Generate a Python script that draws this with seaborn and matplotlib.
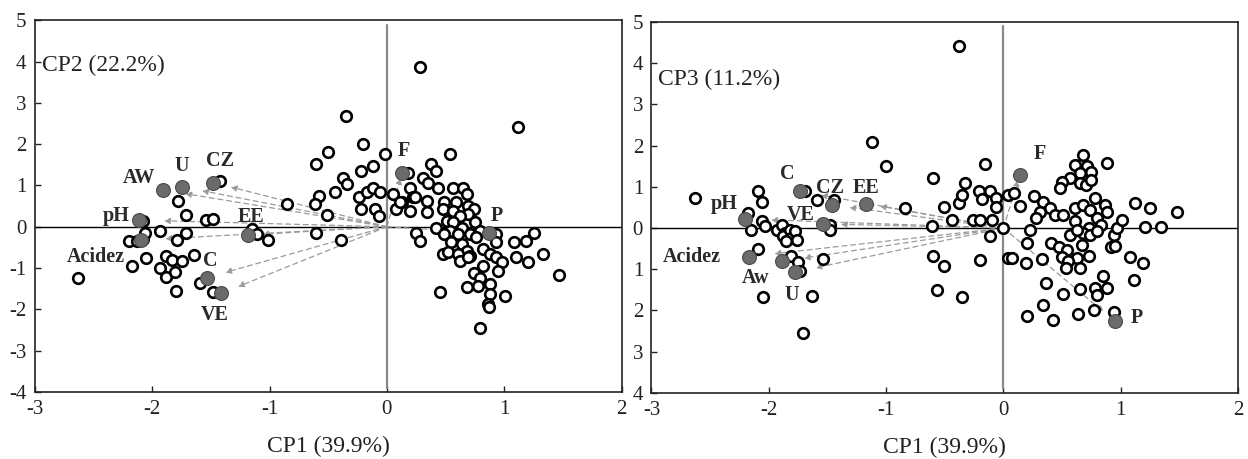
import matplotlib.pyplot as plt
import seaborn as sns

# scores, panel 1 (CP1 vs CP2)
cp1_a = [-2.63, -2.17, -2.05, -2.20, -2.13, -2.08, -2.06, -2.08, -1.93, -1.79, -1.71, -1.71,
         -1.78, -1.54, -1.48, -1.88, -1.93, -1.88, -1.83, -1.81, -1.75, -1.80, -1.64, -1.59,
         -1.48, -1.42, -1.15, -1.11, -1.01, -0.85, -0.60, -0.50, -0.58, -0.61, -0.51, -0.60,
         -0.39, -0.44, -0.37, -0.34, -0.22, -0.12, -0.20, -0.02, -0.24, -0.17, -0.12, -0.06,
         -0.22, -0.10, -0.07, -0.35, 0.28, 1.12,
         0.54, 0.38, 0.42, 0.18, 0.31, 0.35, 0.44, 0.20, 0.05, 0.22, 0.34, 0.13, 0.08, 0.20,
         0.34, 0.56, 0.65, 0.68, 0.49, 0.59, 0.48, 0.56, 0.69, 0.74, 0.69, 0.62, 0.51, 0.56,
         0.42, 0.54, 0.64, 0.75, 0.79, 0.25, 0.28, 0.49, 0.61, 0.71, 0.76, 0.93, 0.55, 0.64,
         0.68, 0.82, 0.93, 1.08, 1.19, 1.25, 0.48, 0.52, 0.61, 0.71, 0.62, 0.69, 0.88, 0.93,
         0.98, 1.10, 1.20, 1.33, 1.47, 0.82, 0.74, 0.95, 0.79, 0.68, 0.78, 0.88, 0.88, 1.01,
         0.45, 0.86, 0.87, 0.79, 0.11, 0.24]
cp2 = [-1.23, -0.94, -0.76, -0.34, -0.34, -0.30, -0.14, 0.15, -0.10, -0.32, -0.14, 0.29,
       0.63, 0.17, 0.19, -0.70, -1.01, -1.21, -0.81, -1.09, -0.82, -1.55, -0.68, -1.37,
       -1.59, 1.11, -0.06, -0.18, -0.31, 0.55, 1.52, 1.80, 0.75, 0.55, 0.29, -0.16,
       -0.31, 0.83, 1.19, 1.03, 1.36, 1.48, 2.00, 1.76, 0.71, 0.83, 0.95, 0.83,
       0.43, 0.43, 0.27, 2.67, 3.87, 2.42,
       1.76, 1.52, 1.36, 1.31, 1.19, 1.07, 0.95, 0.95, 0.79, 0.71, 0.63, 0.59, 0.43, 0.39,
       0.36, 0.95, 0.95, 0.79, 0.59, 0.59, 0.43, 0.39, 0.51, 0.43, 0.31, 0.27, 0.15, 0.11,
       -0.03, -0.10, -0.02, 0.11, -0.10, -0.14, -0.34, -0.18, -0.18, -0.18, -0.26, -0.18, -0.38, -0.42,
       -0.58, -0.54, -0.38, -0.38, -0.34, -0.14, -0.66, -0.62, -0.66, -0.70, -0.82, -0.74, -0.66, -0.74,
       -0.86, -0.74, -0.86, -0.66, -1.16, -0.94, -1.11, -1.08, -1.23, -1.47, -1.43, -1.39, -1.63, -1.67,
       -1.59, -1.87, -1.95, -2.44, 0.59, 0.71]

# scores, panel 2 (CP1 vs CP3)
cp1_b = [-2.63, -2.09, -2.06, -2.18, -2.15, -2.06, -2.03, -2.09, -1.93, -1.89, -1.86, -1.88,
         -1.82, -1.81, -1.78, -1.76, -1.85, -1.81, -1.75, -1.73, -1.69, -1.59, -1.44, -1.48,
         -1.48, -1.54, -2.05, -1.63, -1.71, -1.12, -1.00, -0.84, -0.60, -0.61, -0.60, -0.51,
         -0.57, -0.35, -0.51, -0.44, -0.38, -0.35, -0.33, -0.16, -0.21, -0.18, -0.11, -0.06,
         -0.06, -0.26, -0.20, -0.10, -0.11, 0.00, -0.20, 0.04, 0.04, -0.38,
         0.68, 0.88, 0.61, 0.71, 0.75, 0.65, 0.57, 0.50, 0.65, 0.70, 0.75, 0.48, 0.09, 0.14,
         0.26, 0.34, 0.40, 0.31, 0.28, 0.44, 0.51, 0.61, 0.68, 0.78, 0.74, 0.87, 0.88, 0.61,
         0.80, 0.83, 0.73, 0.68, 0.74, 0.57, 0.63, 0.80, 0.94, 0.97, 1.01, 1.12, 1.25, 1.48,
         1.21, 1.34, 0.23, 0.20, 0.41, 0.47, 0.54, 0.50, 0.67, 0.63, 0.73, 0.55, 0.53, 0.65,
         0.92, 0.95, 1.08, 1.19, 1.11, 0.07, 0.19, 0.33, 0.36, 0.51, 0.65, 0.78, 0.80, 0.85,
         0.88, 0.34, 0.20, 0.42, 0.64, 0.77, 0.94]
cp3 = [0.73, 0.90, 0.64, 0.36, -0.04, 0.18, 0.04, -0.51, -0.04, 0.08, -0.12, -0.20,
       -0.04, -0.24, -0.08, -0.28, -0.32, -0.67, -0.83, -1.05, 0.90, 0.67, 0.67, 0.08,
       -0.04, -0.75, -1.67, -1.66, -2.54, 2.10, 1.51, 0.48, 1.22, 0.04, -0.67, -0.91,
       -1.51, -1.67, 0.51, 0.20, 0.62, 0.81, 1.10, 1.56, 0.91, 0.70, 0.91, 0.73,
       0.51, 0.20, 0.20, 0.20, -0.20, 0.00, -0.77, 0.81, -0.73, 4.41,
       1.77, 1.57, 1.53, 1.51, 1.37, 1.33, 1.21, 1.13, 1.09, 1.05, 1.17, 0.97, 0.85, 0.54,
       0.77, 0.64, 0.48, 0.40, 0.24, 0.32, 0.32, 0.48, 0.56, 0.73, 0.44, 0.56, 0.40, 0.16,
       0.24, 0.08, 0.00, -0.12, -0.16, -0.16, -0.04, -0.08, -0.16, 0.00, 0.20, 0.62, 0.48, 0.40,
       0.02, 0.02, -0.04, -0.36, -0.36, -0.45, -0.53, -0.69, -0.40, -0.73, -0.67, -0.81, -0.97, -0.97,
       -0.45, -0.43, -0.69, -0.85, -1.25, -0.73, -0.85, -0.75, -1.33, -1.59, -1.48, -1.45, -1.62, -1.17,
       -1.45, -1.86, -2.14, -2.22, -2.08, -1.98, -2.04]

# variables (loadings shown as filled points)
vars_a = ["AW", "U", "CZ", "pH", "Acidez", "EE", "C", "VE", "F", "P"]
load_cp1_a = [-1.91, -1.75, -1.48, -2.11, -2.10, -1.18, -1.53, -1.41, 0.13, 0.87]
load_cp2 = [0.89, 0.97, 1.07, 0.16, -0.32, -0.20, -1.23, -1.61, 1.31, -0.15]

vars_b = ["pH", "C", "CZ", "EE", "VE", "Acidez", "Aw", "U", "F", "P"]
load_cp1_b = [-2.20, -1.73, -1.46, -1.17, -1.54, -2.17, -1.89, -1.78, 0.14, 0.95]
load_cp3 = [0.22, 0.89, 0.56, 0.59, 0.10, -0.69, -0.81, -1.07, 1.29, -2.26]

# label offsets in pixels
offs_a = {"AW": (-24, 12), "U": (0, 21), "CZ": (7, 22), "pH": (-23, 4), "Acidez": (-45, -17),
          "EE": (3, 18), "C": (3, 17), "VE": (-7, -22), "F": (2, 22), "P": (8, 17)}
offs_b = {"pH": (-21, 15), "C": (-13, 17), "CZ": (-2, 17), "EE": (0, 16), "VE": (-22, 9),
          "Acidez": (-57, 0), "Aw": (-26, -17), "U": (-3, -23), "F": (20, 21), "P": (22, 3)}

sns.set_style("white")
plt.rcParams["font.family"] = ["Liberation Serif", "DejaVu Serif"]
plt.rcParams["axes.unicode_minus"] = False

fig = plt.figure(figsize=(12.48, 4.59), dpi=100)
ax1 = fig.add_axes([0.028, 0.146, 0.470, 0.810])
ax2 = fig.add_axes([0.522, 0.144, 0.470, 0.808])


def biplot(ax, sx, sy, names, lx, ly, offs, ylab, ylab_y, ytl):
    ax.set_xlim(-3, 2)
    ax.set_ylim(-4, 5)
    ax.axhline(0, color="black", lw=1.0, zorder=1)
    ax.axvline(0, ymin=0.012, ymax=0.988, color="#8a8a8a", lw=1.6, zorder=1)

    for x, y in zip(lx, ly):
        ax.annotate("", xy=(0.9 * x, 0.9 * y), xytext=(0, 0),
                    arrowprops=dict(arrowstyle="-|>", color="#9a9a9a", lw=0.9,
                                    ls=(0, (4, 3)), mutation_scale=9,
                                    shrinkA=0, shrinkB=0),
                    zorder=2)

    sns.scatterplot(x=sx, y=sy, ax=ax, marker="o", s=58, facecolor="white",
                    edgecolor="black", linewidth=1.9, zorder=3)
    sns.scatterplot(x=lx, y=ly, ax=ax, marker="o", s=100, color="#6b6b6b",
                    edgecolor="#4a4a4a", linewidth=0.8, zorder=4)

    for n, x, y in zip(names, lx, ly):
        ax.annotate(n, xy=(x, y), xytext=offs[n], textcoords="offset pixels",
                    ha="center", va="center", fontsize=14.5, fontweight="bold",
                    color="#2a2a2a", zorder=5)

    ax.text(-2.94, ylab_y, ylab, ha="left", va="center", fontsize=17, color="#222222")
    ax.set_xticks(range(-3, 3))
    ax.set_xticklabels([str(v) for v in range(-3, 3)])
    ax.set_yticks(range(-4, 6))
    ax.set_yticklabels(ytl)
    ax.tick_params(direction="in", length=4, width=1, labelsize=15, pad=6,
                   colors="#222222", left=True, bottom=True)
    for sp in ax.spines.values():
        sp.set_color("#222222")
        sp.set_linewidth(1.2)
    ax.set_xlabel("CP1 (39.9%)", fontsize=17, labelpad=12, color="#222222")
    ax.set_ylabel("")


biplot(ax1, cp1_a, cp2, vars_a, load_cp1_a, load_cp2, offs_a, "CP2 (22.2%)", 3.9,
       [str(v) for v in range(-4, 6)])
biplot(ax2, cp1_b, cp3, vars_b, load_cp1_b, load_cp3, offs_b, "CP3 (11.2%)", 3.6,
       [str(abs(v)) for v in range(-4, 6)])

fig.savefig("out.png", dpi=100)
